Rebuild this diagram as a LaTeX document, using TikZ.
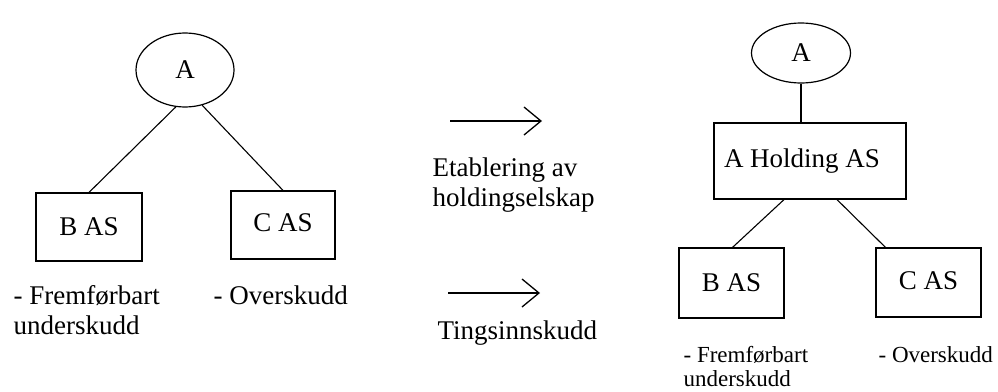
\documentclass[tikz,border=0pt]{standalone}
\usepackage{fontspec}
\setmainfont{Liberation Serif}
\usetikzlibrary{arrows.meta,shapes.geometric}
\begin{document}
\begin{tikzpicture}[x=1pt,y=-1pt,
  line width=1.2pt,
  every node/.style={font=\fontsize{27}{30}\selectfont},
  owner/.style={draw,ellipse,inner sep=0pt},
  company/.style={draw,rectangle,inner sep=0pt},
  note/.style={anchor=west,align=left,inner sep=0pt},
  smallnote/.style={note,font=\fontsize{23}{24}\selectfont},
  link/.style={draw,line width=1.1pt},
  move/.style={draw,line width=1.3pt,-{Straight Barb[length=17pt,width=28pt,line width=1.3pt]}}]
\useasboundingbox[fill=white] (0,0) rectangle (998,391);

% before: owner A with two companies
\node[owner,minimum width=98pt,minimum height=74pt] (A1) at (185,70) {A};
\node[company,minimum width=106pt,minimum height=68pt] (B1) at (89,227) {B AS};
\node[company,minimum width=104pt,minimum height=68pt] (C1) at (283,225) {\raisebox{4pt}{C AS}};
\draw[link] (A1.256) -- (B1.north);
\draw[link] (A1.296) -- (C1.north);
\node[note] (B1n) at (13,310) {- Fremførbart\\underskudd};
\node[note] (C1n) at (213,295) {- Overskudd};

% the two steps
\coordinate (s1a) at (450,121);
\coordinate (s1b) at (542,121);
\draw[move] (s1a) -- (s1b);
\node[note] (s1t) at (432,185) {Etablering av\\holdingselskap};
\coordinate (s2a) at (448,293);
\coordinate (s2b) at (540,293);
\draw[move] (s2a) -- (s2b);
\node[note] (s2t) at (437,333) {Tingsinnskudd};

% after: owner A, holding company, two subsidiaries
\node[owner,minimum width=99pt,minimum height=60pt] (A2) at (801,53) {A};
\node[company,minimum width=192pt,minimum height=76pt] (H) at (810,161) {\hspace*{-16pt}A Holding AS};
\node[company,minimum width=105pt,minimum height=70pt] (B2) at (731.5,283) {B AS};
\node[company,minimum width=105pt,minimum height=69pt] (C2) at (928.5,282.5) {\raisebox{3pt}{C AS}};
\draw[link] (A2.south) -- (A2.south |- H.north);
\draw[link] ([xshift=-26pt]H.south) -- ([xshift=1pt]B2.north);
\draw[link] ([xshift=27pt]H.south) -- ([xshift=-43pt]C2.north);
\node[smallnote] (B2n) at (683,367) {- Fremførbart\\underskudd};
\node[smallnote] (C2n) at (878,355) {- Overskudd};
\end{tikzpicture}
\end{document}
